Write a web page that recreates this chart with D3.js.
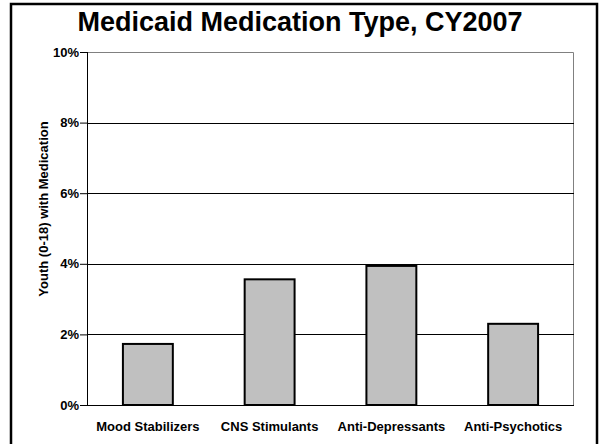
<!DOCTYPE html>
<html>
<head>
<meta charset="utf-8">
<script src="https://cdn.jsdelivr.net/npm/d3@7"></script>
<style>
  body { margin: 0; background: #fff; }
  svg { display: block; font-family: "Liberation Sans", Arial, Helvetica, sans-serif; }
</style>
</head>
<body>
<svg width="600" height="444"></svg>
<script>
const WIDTH = 600;
const HEIGHT = 444;

const categories = ["Mood Stabilizers", "CNS Stimulants", "Anti-Depressants", "Anti-Psychotics"];
const values = [1.73, 3.56, 3.94, 2.30];   // percent of youth
const yTicks = [0, 2, 4, 6, 8, 10];

const margin = {top: 52, right: 26, bottom: 39, left: 87};

function drawChart(svg) {
    const plotW = WIDTH - margin.left - margin.right;
    const plotH = HEIGHT - margin.top - margin.bottom;

    // outer frame (bottom runs off the picture)
    svg.append("rect")
        .attr("x", 11).attr("y", 4)
        .attr("width", 586).attr("height", 460)
        .style("fill", "none")
        .style("stroke", "#000")
        .style("stroke-width", "2.5px");

    svg.append("text")
        .attr("x", WIDTH / 2)
        .attr("y", 31)
        .attr("text-anchor", "middle")
        .style("font-size", "27px")
        .style("font-weight", "bold")
        .text("Medicaid Medication Type, CY2007");

    const g = svg.append("g")
        .attr("transform", `translate(${margin.left}, ${margin.top})`);

    const x = d3.scaleBand()
        .domain(categories)
        .range([0, plotW])
        .paddingInner(0.59)
        .paddingOuter(0.295);

    const y = d3.scaleLinear()
        .domain([0, 10])
        .range([plotH, 0]);

    // plot frame: top/right grey
    g.append("path")
        .attr("d", `M0.5,0.5H${plotW - 0.5}V${plotH}`)
        .style("fill", "none")
        .style("stroke", "#808080")
        .style("stroke-width", "1px");

    // gridlines
    g.selectAll("line.grid")
        .data(yTicks.filter(t => t > 0 && t < 10))
        .enter().append("line")
        .attr("class", "grid")
        .attr("x1", 0).attr("x2", plotW)
        .attr("y1", d => Math.round(y(d)) + 0.5)
        .attr("y2", d => Math.round(y(d)) + 0.5)
        .style("stroke", "#000")
        .style("stroke-width", "1px");

    g.selectAll("rect.bar")
        .data(values)
        .enter().append("rect")
        .attr("class", "bar")
        .attr("x", (d, i) => x(categories[i]))
        .attr("y", d => y(d))
        .attr("width", x.bandwidth())
        .attr("height", d => plotH - y(d))
        .style("fill", "#c0c0c0")
        .style("stroke", "#000")
        .style("stroke-width", "2px");

    const yAxis = g.append("g")
        .call(d3.axisLeft(y).tickValues(yTicks).tickFormat(d => d + "%").tickSize(7).tickPadding(1));
    yAxis.select(".domain").remove();
    yAxis.selectAll("line").attr("stroke", "#000");
    yAxis.selectAll("text")
        .style("font-size", "13px")
        .style("font-weight", "bold")
        .attr("fill", "#000");

    // y axis line and baseline
    g.append("line")
        .attr("x1", 0.5).attr("x2", 0.5)
        .attr("y1", 0).attr("y2", plotH)
        .style("stroke", "#000");
    g.append("line")
        .attr("x1", 0).attr("x2", plotW)
        .attr("y1", plotH + 0.5).attr("y2", plotH + 0.5)
        .style("stroke", "#000");

    g.selectAll("text.cat")
        .data(categories)
        .enter().append("text")
        .attr("class", "cat")
        .attr("x", d => x(d) + x.bandwidth() / 2)
        .attr("y", plotH + 26)
        .attr("text-anchor", "middle")
        .style("font-size", "13px")
        .style("font-weight", "bold")
        .text(d => d);

    svg.append("text")
        .attr("transform", "translate(48, 209) rotate(-90)")
        .attr("text-anchor", "middle")
        .style("font-size", "13px")
        .style("font-weight", "bold")
        .text("Youth (0-18) with Medication");
}

drawChart(d3.select("svg"));
</script>
</body>
</html>
